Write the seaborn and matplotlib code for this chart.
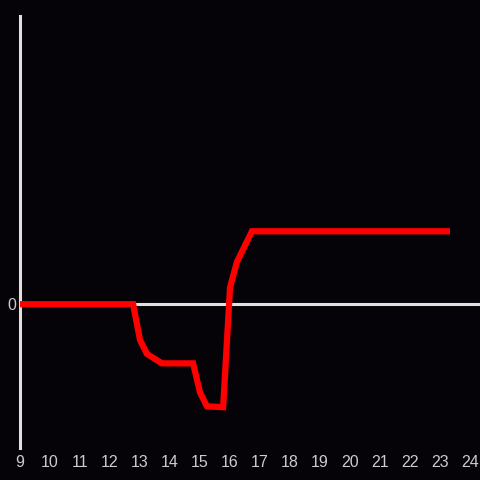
import numpy as np
import pandas as pd
import matplotlib
matplotlib.use("Agg")
import matplotlib.pyplot as plt
import seaborn as sns

# Data
hours = [9.0, 12.77, 13.0, 13.23, 13.73, 14.77, 15.0, 15.23, 15.77, 16.0, 16.23, 16.73, 23.33]
values = [0.0, 0.0, -0.49, -0.68, -0.81, -0.81, -1.21, -1.40, -1.41, 0.23, 0.58, 1.0, 1.0]
x_ticks = list(range(9, 25))

df = pd.DataFrame({"hour": hours, "value": values})

bg = "#050307"
sns.set_theme(style="dark", rc={"axes.facecolor": bg, "figure.facecolor": bg})
plt.rcParams['font.family'] = ['Liberation Sans', 'DejaVu Sans']

fig = plt.figure(figsize=(4.8, 4.8), dpi=100)
ax = fig.add_axes([20 / 480, 32 / 480, 460 / 480, 432 / 480])

ax.axhline(0, color="#e0e0e0", lw=2.2, zorder=1)
sns.lineplot(data=df, x="hour", y="value", ax=ax, color="#ff0000", lw=4.5, zorder=3,
             solid_capstyle="butt", solid_joinstyle="miter")

ax.set_xlim(9, 24.33)
ax.set_ylim(-1.97, 3.95)
ax.set_xticks(x_ticks)
ax.set_xticklabels([str(t) for t in x_ticks])
ax.set_yticks([0])
ax.set_yticklabels(["0"])
ax.set_xlabel("")
ax.set_ylabel("")
ax.grid(False)

for side in ["top", "right", "bottom"]:
    ax.spines[side].set_visible(False)
ax.spines["left"].set_color("#e0e0e0")
ax.spines["left"].set_linewidth(2.2)
ax.tick_params(axis="both", colors="#cccccc", labelsize=11.5, length=0, pad=5)
ax.tick_params(axis="y", pad=3)

fig.savefig("out.png", dpi=100, facecolor=bg)
